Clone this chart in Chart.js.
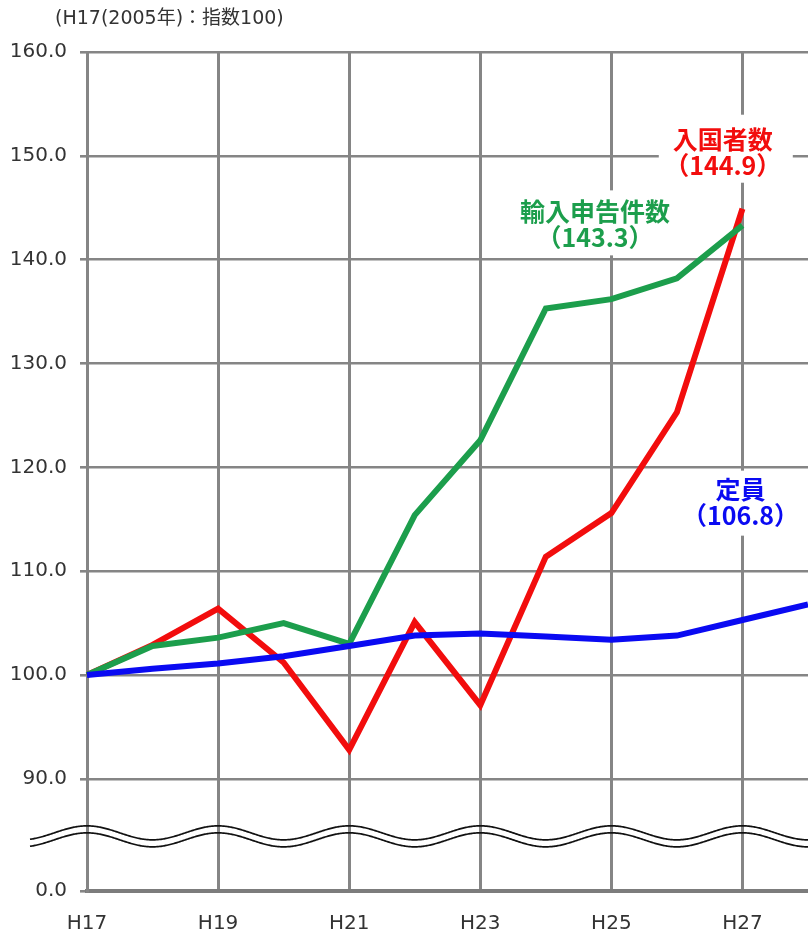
<!DOCTYPE html>
<html lang="ja">
<head>
<meta charset="utf-8">
<title>指数の推移</title>
<script src="https://cdn.jsdelivr.net/npm/chart.js@4.4.1/dist/chart.umd.min.js"></script>
<style>
  html, body { margin: 0; padding: 0; background: #ffffff; }
  #wrap { width: 808px; height: 937px; position: relative; }
  canvas { display: block; }
</style>
</head>
<body>
<div id="wrap"><canvas id="c" width="808" height="937"></canvas></div>
<script>
// Fiscal years (平成), index H17 = 100
const years = ['H17', 'H18', 'H19', 'H20', 'H21', 'H22', 'H23', 'H24', 'H25', 'H26', 'H27', 'H28'];

const arrivals = [100.0, 102.9, 106.4, 101.2, 92.8, 105.1, 97.1, 111.4, 115.6, 125.3, 144.9, null];
const importDeclarations = [100.0, 102.8, 103.6, 105.0, 103.0, 115.4, 122.6, 135.3, 136.2, 138.2, 143.3, null];
const staffQuota = [100.0, 100.6, 101.1, 101.8, 102.8, 103.8, 104.0, 103.7, 103.4, 103.8, 105.3, 106.8];

const yTickValues = [90, 100, 110, 120, 130, 140, 150, 160];
const axisBreakValue = 79.2;   // bottom of the broken axis, labelled 0.0

const seriesNames = ['入国者数', '輸入申告件数', '定員'];
const endValues = [144.9, 143.3, 106.8];

const titleText = '(H17(2005年)：指数100)';

const RED = '#f20d0d';
const GREEN = '#1c9e4c';
const BLUE = '#0a0af2';
const GRID = '#858585';
const TEXT = '#333333';

const LABEL_FONT = 'bold 25px "Noto Sans CJK JP", "DejaVu Sans", sans-serif';

// Callout text boxes: anchored to a category index and a value on the y axis
const callouts = [
  { color: RED,   lines: [seriesNames[0], '（' + endValues[0].toFixed(1) + '）'], at: 9.7,  value: 150.3, box: [-64, -38, 134, 68] },
  { color: GREEN, lines: [seriesNames[1], '（' + endValues[1].toFixed(1) + '）'], at: 7.75, value: 143.4, box: [-80, -34, 157, 65] },
  { color: BLUE,  lines: [seriesNames[2], '（' + endValues[2].toFixed(1) + '）'], at: 9.97, value: 116.6, box: [-52, -32, 106, 65] }
];

const decorations = {
  id: 'decorations',
  beforeDatasetsDraw(chart) {
    const { ctx } = chart;
    const xs = chart.scales.x, ys = chart.scales.y;
    ctx.save();
    // white boxes behind the callouts hide the grid
    ctx.fillStyle = '#ffffff';
    callouts.forEach(c => {
      const cx = xs.getPixelForValue(c.at);
      const cy = ys.getPixelForValue(c.value);
      ctx.fillRect(cx + c.box[0], cy + c.box[1], c.box[2], c.box[3]);
    });
    // axis-break waves between 90 and 0
    const x0 = xs.getPixelForValue(0);
    const period = xs.getPixelForValue(2) - x0;
    const base = ys.getPixelForValue(90);
    ctx.strokeStyle = '#111111';
    ctx.lineWidth = 1.7;
    [54, 61].forEach(off => {
      ctx.beginPath();
      for (let x = 30; x <= chart.width; x += 1) {
        const y = base + off - 7 * Math.cos(2 * Math.PI * (x - x0) / period);
        if (x === 30) ctx.moveTo(x, y); else ctx.lineTo(x, y);
      }
      ctx.stroke();
    });
    // unit note above the plot
    ctx.fillStyle = TEXT;
    ctx.font = '19px "DejaVu Sans", "Noto Sans CJK JP", sans-serif';
    ctx.textAlign = 'left';
    ctx.textBaseline = 'middle';
    ctx.fillText(titleText, 55, 19);
    ctx.restore();
  },
  afterDatasetsDraw(chart) {
    const { ctx } = chart;
    const xs = chart.scales.x, ys = chart.scales.y;
    ctx.save();
    ctx.font = LABEL_FONT;
    ctx.textAlign = 'center';
    ctx.textBaseline = 'middle';
    callouts.forEach(c => {
      const cx = xs.getPixelForValue(c.at);
      const cy = ys.getPixelForValue(c.value);
      ctx.fillStyle = c.color;
      ctx.fillText(c.lines[0], cx, cy - 13);
      ctx.fillText(c.lines[1], cx, cy + 13);
    });
    ctx.restore();
  }
};

new Chart(document.getElementById('c'), {
  type: 'line',
  data: {
    labels: years,
    datasets: [
      { label: seriesNames[0], data: arrivals, borderColor: RED, order: 2 },
      { label: seriesNames[1], data: importDeclarations, borderColor: GREEN, order: 1 },
      { label: seriesNames[2], data: staffQuota, borderColor: BLUE, order: 0 }
    ]
  },
  options: {
    responsive: false,
    devicePixelRatio: 1,
    animation: false,
    events: [],
    layout: { padding: { top: 52, right: 0, left: 0, bottom: 0 } },
    elements: {
      line: { borderWidth: 6, tension: 0, borderJoinStyle: 'miter', fill: false },
      point: { radius: 0 }
    },
    plugins: { legend: { display: false }, tooltip: { enabled: false } },
    scales: {
      x: {
        offset: false,
        grid: { color: GRID, lineWidth: 3, drawTicks: false },
        border: { color: '#7c7c7c', width: 4 },
        ticks: {
          autoSkip: false,
          maxRotation: 0,
          padding: 21,
          color: TEXT,
          font: { family: '"DejaVu Sans", sans-serif', size: 20 },
          callback: (v, i) => (i % 2 === 0 ? years[i] : null)
        },
        afterFit: s => { s.height = 46; }
      },
      y: {
        min: axisBreakValue,
        max: 160,
        grid: { color: GRID, lineWidth: 2.6, tickLength: 7 },
        border: { color: GRID, width: 3 },
        afterBuildTicks: s => {
          s.ticks = [axisBreakValue].concat(yTickValues).map(v => ({ value: v }));
        },
        ticks: {
          padding: 13,
          color: TEXT,
          font: { family: '"DejaVu Sans", sans-serif', size: 20 },
          callback: v => (v < 85 ? '0.0' : Number(v).toFixed(1))
        },
        afterFit: s => { s.width = 87; }
      }
    }
  },
  plugins: [decorations]
});
</script>
</body>
</html>
